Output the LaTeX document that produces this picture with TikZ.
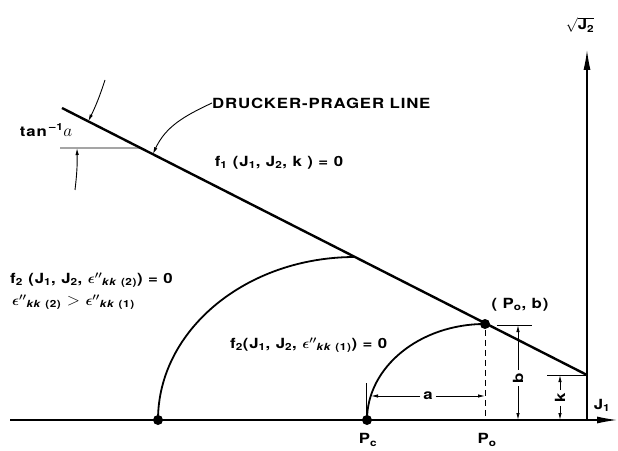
\documentclass[tikz,border=0pt]{standalone}
\usepackage{fontspec}
\setmainfont[LetterSpace=6, FakeStretch=1.2]{TeX Gyre Heros}
\usetikzlibrary{arrows.meta, positioning, calc}

\begin{document}
\begin{tikzpicture}[x=1pt,y=1pt,
  lbl/.style={inner sep=0pt, font=\fontsize{14}{16}\selectfont\bfseries},
  dimlbl/.style={lbl, inner sep=3pt},
  axis/.style={line width=1.1pt, -{Latex[length=20pt,width=7pt]}},
  dpline/.style={line width=2.4pt},
  surf/.style={line width=1.8pt},
  dim/.style={line width=0.9pt},
  tip/.style={-{Latex[length=7pt,width=3.5pt]}},
  dot/.style={circle, fill, inner sep=0pt, minimum size=10pt}]
  \path[use as bounding box] (0,0) rectangle (618,450);
  % axes
  \coordinate (ax0) at (10,30);
  \coordinate (O) at (587,30);
  \coordinate (axX) at (617,30);
  \coordinate (axY) at (587,400);
  \draw[axis] (ax0) -- (axX);
  \draw[axis] (O) -- (axY);
  \node[lbl] (sqJ) at (580,425) {\Large$\sqrt{\mbox{\fontsize{14}{16}\selectfont\bfseries J\textsubscript{2}}}$};
  \node[lbl] (J1) at (602,45) {J\textsubscript{1}};
  % Drucker-Prager line
  \coordinate (DP0) at (62,342);
  \coordinate (DP1) at (587,75);
  \draw[dpline] (DP0) -- (DP1);
  % yield surfaces
  \node[dot] (Pout) at (158,30) {};
  \node[dot] (Pcdot) at (367,30) {};
  \draw[surf] (Pout.center) arc[start angle=180, end angle=90, x radius=197, y radius=163];
  \draw[surf] (Pcdot.center) arc[start angle=180, end angle=90, x radius=118, y radius=96]
    node[dot] (Pob) {};
  \draw[dim, dash pattern=on 6pt off 4pt] (Pob) -- (Pob |- O);
  \node[lbl] (Pc) at (368,10) {P\textsubscript{c}};
  \node[lbl] (Po) at (487,10) {P\textsubscript{o}};
  \node[lbl] (Pobl) at (520,145) {( P\textsubscript{o}, b)};
  % b
  \coordinate (bt0) at (497,125);
  \coordinate (bt1) at (532,125);
  \draw[dim] (bt0) -- (bt1);
  \node[dimlbl, rotate=90] (blbl) at (518,72) {b};
  \draw[dim, tip] (blbl) -- (blbl |- bt0);
  \draw[dim, tip] (blbl) -- (blbl |- O);
  % k
  \coordinate (kt0) at (547,75);
  \draw[dim] (kt0) -- (DP1);
  \node[dimlbl, rotate=90] (klbl) at (560,52) {k};
  \draw[dim, tip] (klbl) -- (klbl |- kt0);
  \draw[dim, tip] (klbl) -- (klbl |- O);
  % a
  \coordinate (at0) at (366,67);
  \draw[dim] (at0) -- (at0 |- O);
  \node[dimlbl] (albl) at (428,54) {a};
  \draw[dim, tip] (albl) -- (371,54);
  \draw[dim, tip] (albl) -- (albl -| Pob);
  % slope
  \coordinate (hr0) at (60,302);
  \coordinate (hr1) at ($(DP0)!0.150!(DP1)$);
  \draw[dim] (hr0) -- (hr1);
  \coordinate (tanB) at (75,260);
  \coordinate (tanT) at (105,370);
  \draw[dim, tip] (tanB) to[bend right=4] (77,302);
  \draw[dim, tip] (tanT) to[bend left=4] ($(DP0)!0.05!(DP1)$);
  \node[lbl] (tanl) at (46,320) {tan\,\textsuperscript{--1}{\fontsize{17}{17}\selectfont$a$}};
  % labels
  \node[lbl, anchor=west] (dpl) at (212,347) {DRUCKER-PRAGER LINE};
  \draw[dim, tip] (dpl.west) to[out=205, in=65] ($(DP0)!0.173!(DP1)$);
  \node[lbl] (f1) at (279,287) {f\textsubscript{1} (J\textsubscript{1}, J\textsubscript{2}, k ) = 0};
  \node[lbl, anchor=west] (f2a) at (10,170)
    {f\textsubscript{2} (J\textsubscript{1}, J\textsubscript{2}, {\Large\boldmath$\epsilon''$}\textsubscript{\textit{kk} (2)}) = 0};
  \node[lbl, anchor=west] (ineq) at (12,148)
    {{\Large\boldmath$\epsilon''$}\textsubscript{\textit{kk} (2)} {\LARGE$>$} {\Large\boldmath$\epsilon''$}\textsubscript{\textit{kk} (1)}};
  \node[lbl, anchor=west] (f2b) at (230,105)
    {f\textsubscript{2}(J\textsubscript{1}, J\textsubscript{2}, {\Large\boldmath$\epsilon''$}\textsubscript{\textit{kk} (1)}) = 0};
\end{tikzpicture}
\end{document}
